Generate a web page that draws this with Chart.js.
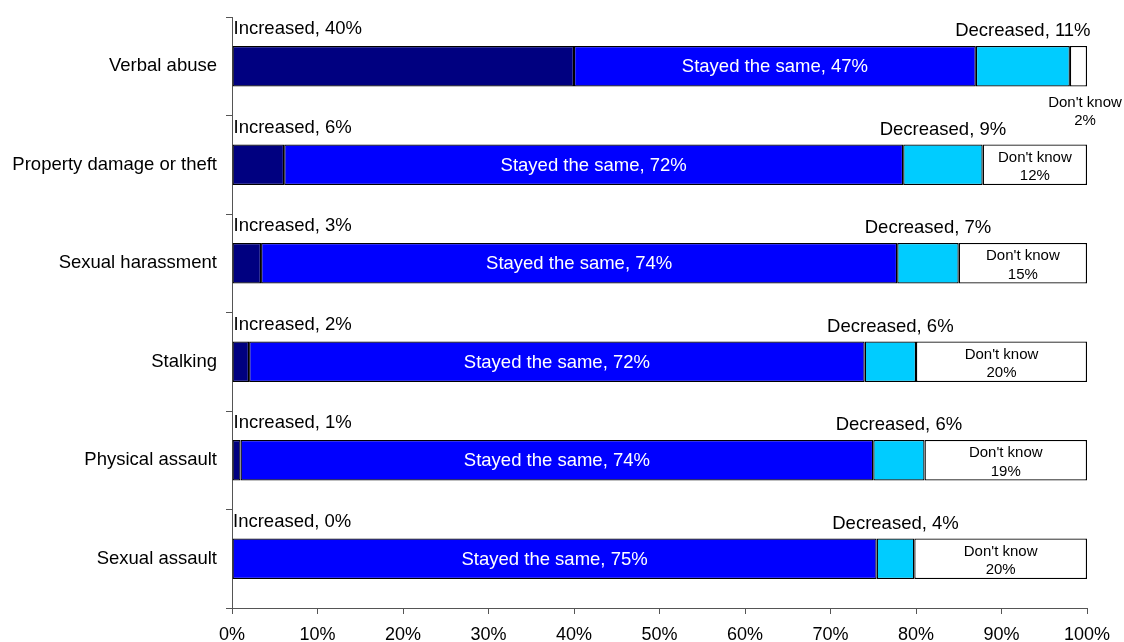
<!DOCTYPE html>
<html>
<head>
<meta charset="utf-8">
<title>Change in incidents</title>
<script src="https://cdn.jsdelivr.net/npm/chart.js@4.4.0/dist/chart.umd.min.js"></script>
<style>
  html, body { margin: 0; padding: 0; background: #fff; }
  canvas { display: block; }
</style>
</head>
<body>
<canvas id="chart" width="1124" height="642"></canvas>
<script>
var categories = ['Verbal abuse', 'Property damage or theft', 'Sexual harassment', 'Stalking', 'Physical assault', 'Sexual assault'];
var seriesNames = ['Increased', 'Stayed the same', 'Decreased', "Don't know"];
var increased = [40, 6.1, 3.4, 2, 1, 0];
var stayedSame = [47, 72.4, 74.4, 72, 74, 75.4];
var decreased = [11, 9.3, 7.2, 6, 6, 4.4];
var dontKnow = [2, 12.2, 15, 20, 19, 20.2];
var xTickValues = [0, 10, 20, 30, 40, 50, 60, 70, 80, 90, 100];

var family = "Arial, 'Liberation Sans', sans-serif";
Chart.defaults.font.family = family;
Chart.defaults.color = '#000';

//Writes the value labels around / inside each bar segment
var segmentLabels = {
  id: 'segmentLabels',
  afterDatasetsDraw: function (chart) {
    var ctx = chart.ctx;
    ctx.save();
    chart.data.datasets.forEach(function (ds, di) {
      var meta = chart.getDatasetMeta(di);
      meta.data.forEach(function (bar, i) {
        var pct = Math.round(ds.data[i]) + '%';
        var left = Math.min(bar.base, bar.x);
        var right = Math.max(bar.base, bar.x);
        var top = bar.y - bar.height / 2;
        var bottom = bar.y + bar.height / 2;
        var mid = (left + right) / 2;
        if (di === 0) {
          ctx.font = '18.5px ' + family;
          ctx.fillStyle = '#000';
          ctx.textAlign = 'left';
          ctx.textBaseline = 'alphabetic';
          ctx.fillText(ds.label + ', ' + pct, left + 1, top - 12);
        } else if (di === 1) {
          ctx.font = '18.5px ' + family;
          ctx.fillStyle = '#fff';
          ctx.textAlign = 'center';
          ctx.textBaseline = 'middle';
          ctx.fillText(ds.label + ', ' + pct, mid, bar.y + 1);
        } else if (di === 2) {
          ctx.font = '18.5px ' + family;
          ctx.fillStyle = '#000';
          ctx.textAlign = 'center';
          ctx.textBaseline = 'alphabetic';
          ctx.fillText(ds.label + ', ' + pct, mid, top - 10);
        } else {
          ctx.font = '15px ' + family;
          ctx.fillStyle = '#000';
          ctx.textAlign = 'center';
          ctx.textBaseline = 'alphabetic';
          if (right - left > ctx.measureText(ds.label).width + 4) {
            ctx.fillText(ds.label, mid, bar.y - 3);
            ctx.fillText(pct, mid, bar.y + 15.5);
          } else {
            // segment too narrow: put it under the bar end
            ctx.fillText(ds.label, right - 2, bottom + 21);
            ctx.fillText(pct, right - 2, bottom + 39);
          }
        }
      });
    });
    ctx.restore();
  }
};

var colors = ['#000080', '#0000FF', '#00CCFF', '#FFFFFF'];
var values = [increased, stayedSame, decreased, dontKnow];

var datasets = seriesNames.map(function (name, k) {
  return {
    label: name,
    data: values[k],
    backgroundColor: colors[k],
    borderColor: '#000',
    borderWidth: 1.3,
    borderSkipped: false,
    barPercentage: 0.41,
    categoryPercentage: 1
  };
});

new Chart(document.getElementById('chart'), {
  type: 'bar',
  data: { labels: categories, datasets: datasets },
  options: {
    indexAxis: 'y',
    responsive: false,
    animation: false,
    layout: { padding: { top: 17, right: 37, bottom: 0, left: 0 } },
    plugins: {
      legend: { display: false },
      tooltip: { enabled: false }
    },
    scales: {
      x: {
        stacked: true,
        min: 0,
        max: 100,
        afterBuildTicks: function (scale) {
          scale.ticks = xTickValues.map(function (v) { return { value: v }; });
        },
        afterFit: function (scale) { scale.height = 34; },
        grid: { drawOnChartArea: false, drawTicks: true, tickLength: 6, color: '#555' },
        border: { color: '#555', width: 1 },
        ticks: {
          font: { size: 18 },
          padding: 10,
          maxRotation: 0,
          callback: function (v) { return v + '%'; }
        }
      },
      y: {
        stacked: true,
        afterFit: function (scale) {
          scale.width = 232;
          // category labels sit mid-band, no extra room needed above/below
          scale.paddingTop = 0;
          scale.paddingBottom = 0;
        },
        grid: { offset: true, drawOnChartArea: false, drawTicks: true, tickLength: 6, color: '#555' },
        border: { color: '#555', width: 1 },
        ticks: { font: { size: 18.5 }, padding: 9 }
      }
    }
  },
  plugins: [segmentLabels]
});
</script>
</body>
</html>
